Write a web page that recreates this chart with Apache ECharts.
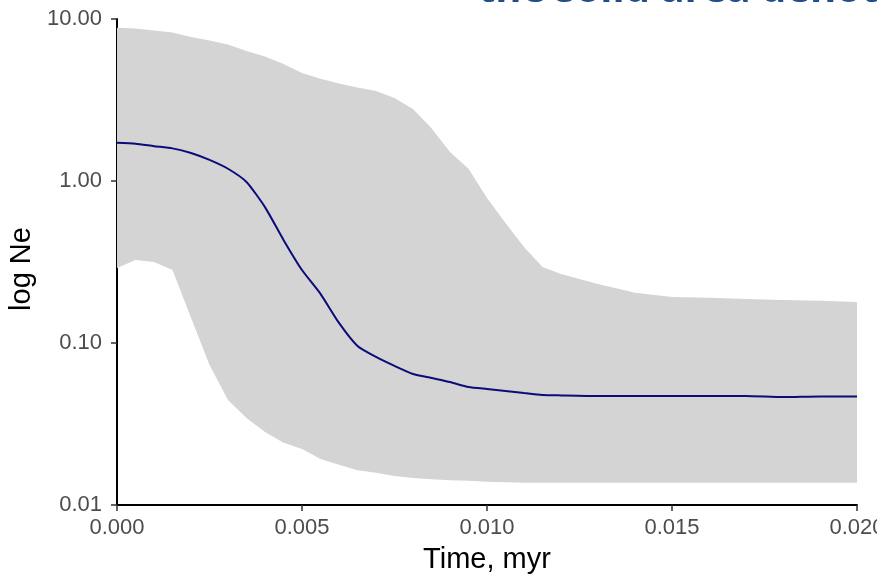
<!DOCTYPE html>
<html>
<head>
<meta charset="utf-8">
<title>log Ne</title>
<script src="https://cdn.jsdelivr.net/npm/echarts@6/dist/echarts.min.js"></script>
<style>
  html, body { margin: 0; padding: 0; background: #fff; }
  #chart { width: 877px; height: 580px; }
</style>
</head>
<body>
<div id="chart"></div>
<script>
// time, myr
const time = [
  0, 0.0005, 0.001, 0.0015, 0.002, 0.0025, 0.003, 0.0035, 0.004, 0.0045,
  0.005, 0.0055, 0.006, 0.0065, 0.007, 0.0075, 0.008, 0.0085, 0.009, 0.0095,
  0.01, 0.0105, 0.011, 0.0115, 0.012, 0.013, 0.014, 0.015, 0.016, 0.017,
  0.018, 0.019, 0.02
]
// median Ne
const median = [
  1.72, 1.70, 1.64, 1.59, 1.49, 1.35, 1.19, 0.986, 0.69, 0.433,
  0.282, 0.201, 0.133, 0.0958, 0.082, 0.0722, 0.0644, 0.0608, 0.0574, 0.0535,
  0.052, 0.0506, 0.0491, 0.0478, 0.0475, 0.0471, 0.0471, 0.0471, 0.0471, 0.0471,
  0.0464, 0.0468, 0.0468
]
// 95% HPD, upper and lower
const upper = [
  8.84, 8.74, 8.49, 8.26, 7.74, 7.36, 6.96, 6.34, 5.87, 5.28,
  4.64, 4.27, 4.00, 3.78, 3.59, 3.25, 2.78, 2.12, 1.51, 1.19,
  0.785, 0.55, 0.392, 0.295, 0.267, 0.231, 0.204, 0.192, 0.19, 0.187,
  0.184, 0.182, 0.179
]
const lower = [
  0.290, 0.325, 0.316, 0.282, 0.143, 0.0731, 0.0445, 0.0344, 0.0282, 0.0242,
  0.0222, 0.0192, 0.0177, 0.0164, 0.0158, 0.0151, 0.0147, 0.0144, 0.0142, 0.0141,
  0.0139, 0.0138, 0.0137, 0.0137, 0.0137, 0.0137, 0.0137, 0.0137, 0.0137, 0.0137,
  0.0137, 0.0137, 0.0137
]
const xTicks = ['0.000', '0.005', '0.010', '0.015', '0.020']
const yTicks = ['0.01', '0.10', '1.00', '10.00']
const titleText = 'the solid area denotes the 95% HPD'

const font = 'Liberation Sans'

// band drawn as one polygon, upper edge forward then lower edge back
function renderBand(params, api) {
  if (params.dataIndex !== 0) return null
  const pts = []
  for (let i = 0; i < time.length; i++) pts.push(api.coord([time[i], upper[i]]))
  for (let i = time.length - 1; i >= 0; i--) pts.push(api.coord([time[i], lower[i]]))
  return {
    type: 'polygon',
    shape: { points: pts },
    style: { fill: '#d4d4d4' }
  }
}

const chart = echarts.init(document.getElementById('chart'))
chart.setOption({
  animation: false,
  grid: { left: 117, right: 20, top: 19, bottom: 75, outerBoundsMode: 'none' },
  graphic: [{
    type: 'text',
    left: 478,
    top: -29,
    style: {
      text: titleText,
      font: 'bold 40px "Open Sans"',
      fill: '#1f4e8a'
    }
  }],
  xAxis: {
    type: 'value',
    min: 0,
    max: 0.02,
    interval: 0.005,
    name: 'Time, myr',
    nameLocation: 'middle',
    nameGap: 40,
    nameTextStyle: { fontFamily: font, fontSize: 29, color: '#000' },
    splitLine: { show: false },
    axisLine: { lineStyle: { color: '#000', width: 2 } },
    axisTick: { length: 6, lineStyle: { color: '#333', width: 1.5 } },
    axisLabel: {
      margin: 12,
      fontFamily: font,
      fontSize: 22,
      color: '#4d4d4d',
      formatter: (v) => xTicks[Math.round(v / 0.005)]
    }
  },
  yAxis: {
    type: 'log',
    logBase: 10,
    min: 0.01,
    max: 10,
    name: 'log Ne',
    nameLocation: 'middle',
    nameRotate: 90,
    nameGap: 74,
    nameTextStyle: { fontFamily: font, fontSize: 29, color: '#000', padding: [0, 14, 0, 0] },
    splitLine: { show: false },
    axisLine: { show: true, lineStyle: { color: '#000', width: 2 } },
    axisTick: { show: true, length: 6, lineStyle: { color: '#333', width: 1.5 } },
    axisLabel: {
      margin: 15,
      fontFamily: font,
      fontSize: 22,
      color: '#4d4d4d',
      formatter: (v) => yTicks[Math.round(Math.log10(v)) + 2]
    }
  },
  series: [
    {
      name: 'hpd',
      type: 'custom',
      renderItem: renderBand,
      data: time.map((t, i) => [t, lower[i], upper[i]]),
      encode: { x: 0, y: [1, 2] },
      z: 1
    },
    {
      name: 'median',
      type: 'line',
      data: time.map((t, i) => [t, median[i]]),
      symbol: 'none',
      smooth: 0.2,
      lineStyle: { color: '#0b0b7a', width: 2 },
      z: 3
    }
  ]
})
</script>
</body>
</html>
